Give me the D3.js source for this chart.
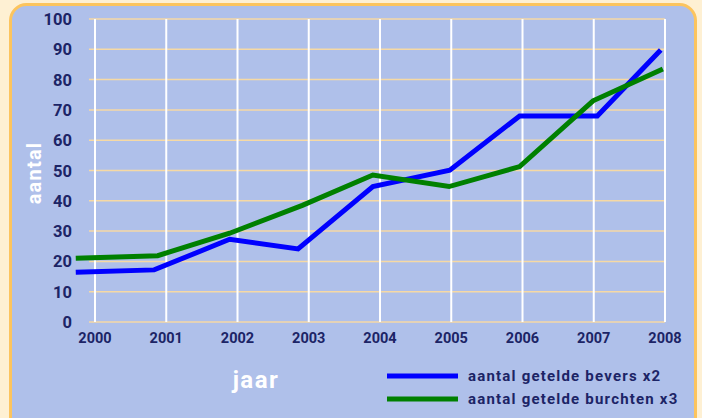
<!DOCTYPE html>
<meta charset="utf-8">
<script src="https://d3js.org/d3.v7.min.js"></script>
<style>
  body { margin: 0; background: #fef0d3; }
  text { font-family: Roboto, "DejaVu Sans", sans-serif; font-weight: bold; }
</style>
<div id="vis"></div>
<script>

// data
var years = [2000, 2001, 2002, 2003, 2004, 2005, 2006, 2007, 2008];
var yTicks = [0, 10, 20, 30, 40, 50, 60, 70, 80, 90, 100];

// the points sit a little left of the year gridlines in the original
var beversYear = [1999.73, 2000.83, 2001.89, 2002.85, 2003.90, 2004.98, 2005.96, 2007.05, 2007.94];
var bevers     = [16.4, 17.2, 27.3, 24.1, 44.7, 50.1, 68.0, 68.0, 89.8];
var burchtenYear = [1999.73, 2000.88, 2001.89, 2002.91, 2003.90, 2004.97, 2005.96, 2006.99, 2007.97];
var burchten     = [21.0, 21.9, 29.3, 38.5, 48.5, 44.7, 51.3, 73.0, 83.5];

var seriesNames = ["aantal getelde bevers x2", "aantal getelde burchten x3"];
var seriesColors = ["#0000ff", "#008000"];

var W = 702, H = 418;

var svg = d3.select("#vis")
  .append("svg")
    .attr("width", W)
    .attr("height", H);

// rounded panel
svg.append("rect")
  .attr("x", 10.5).attr("y", 4.5)
  .attr("width", 685).attr("height", 430)
  .attr("rx", 16)
  .attr("fill", "#afc0ea")
  .attr("stroke", "#fcc45e")
  .attr("stroke-width", 3);

var x = d3.scaleLinear().domain([2000, 2008]).range([95, 665]);
var y = d3.scaleLinear().domain([0, 100]).range([322, 19]);

// horizontal gridlines
svg.append("g")
  .selectAll("line")
  .data(yTicks)
  .enter().append("line")
    .attr("x1", 89).attr("x2", x(2008))
    .attr("y1", function(d) { return y(d); })
    .attr("y2", function(d) { return y(d); })
    .attr("stroke", "#f6d9a4")
    .attr("stroke-width", 1.5);

// vertical gridlines
svg.append("g")
  .selectAll("line")
  .data(years)
  .enter().append("line")
    .attr("x1", function(d) { return x(d); })
    .attr("x2", function(d) { return x(d); })
    .attr("y1", y(100)).attr("y2", y(0))
    .attr("stroke", "#ffffff")
    .attr("stroke-width", 2);

// y tick labels
svg.append("g")
  .selectAll("text")
  .data(yTicks)
  .enter().append("text")
    .attr("x", 72)
    .attr("y", function(d) { return y(d) + 6; })
    .attr("text-anchor", "end")
    .attr("font-size", 16.5)
    .attr("fill", "#1c2466")
    .text(function(d) { return d; });

// x tick labels
svg.append("g")
  .selectAll("text")
  .data(years)
  .enter().append("text")
    .attr("x", function(d) { return x(d); })
    .attr("y", 343)
    .attr("text-anchor", "middle")
    .attr("font-size", 14.5)
    .attr("fill", "#1c2466")
    .text(function(d) { return d; });

// axis titles
svg.append("text")
  .attr("x", 256).attr("y", 388)
  .attr("text-anchor", "middle")
  .attr("font-size", 24)
  .attr("letter-spacing", 1.5)
  .attr("fill", "#ffffff")
  .text("jaar");

svg.append("text")
  .attr("transform", "translate(41,173) rotate(-90)")
  .attr("text-anchor", "middle")
  .attr("font-size", 20)
  .attr("letter-spacing", 1.2)
  .attr("fill", "#ffffff")
  .text("aantal");

// lines
var line = d3.line()
  .x(function(d) { return x(d[0]); })
  .y(function(d) { return y(d[1]); });

var series = [d3.zip(beversYear, bevers), d3.zip(burchtenYear, burchten)];

svg.append("g")
  .selectAll("path")
  .data(series)
  .enter().append("path")
    .attr("d", line)
    .attr("fill", "none")
    .attr("stroke", function(d, i) { return seriesColors[i]; })
    .attr("stroke-width", 5)
    .attr("stroke-linejoin", "miter");

// legend
var legend = svg.append("g")
  .selectAll("g")
  .data(seriesNames)
  .enter().append("g")
    .attr("transform", function(d, i) { return "translate(387," + (376 + i * 23) + ")"; });

legend.append("line")
  .attr("x1", 0).attr("x2", 71)
  .attr("stroke", function(d, i) { return seriesColors[i]; })
  .attr("stroke-width", 5);

legend.append("text")
  .attr("x", 81).attr("y", 5)
  .attr("font-size", 15)
  .attr("letter-spacing", 1.2)
  .attr("fill", "#1c2466")
  .text(function(d) { return d; });

</script>
